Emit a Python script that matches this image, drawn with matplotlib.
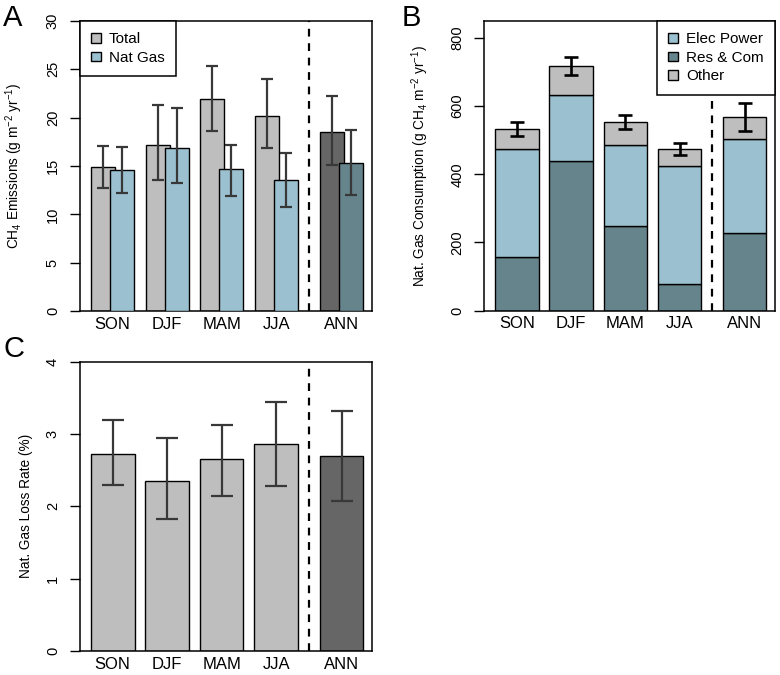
import numpy as np
import matplotlib
matplotlib.use("Agg")
import matplotlib.pyplot as plt
from matplotlib.patches import Patch

plt.rcParams['font.family'] = ['Liberation Sans', 'DejaVu Sans']
plt.rcParams['mathtext.fontset'] = 'custom'
plt.rcParams['mathtext.rm'] = 'Liberation Sans'
plt.rcParams['mathtext.it'] = 'Liberation Sans:italic'
plt.rcParams['mathtext.bf'] = 'Liberation Sans:bold'

# data
seasons = ["SON", "DJF", "MAM", "JJA", "ANN"]

# panel A: CH4 emissions (g m-2 yr-1)
total = [14.9, 17.2, 21.9, 20.2, 18.5]
total_lo = [12.7, 13.6, 18.6, 16.9, 15.1]
total_hi = [17.1, 21.3, 25.3, 24.0, 22.2]
natgas = [14.55, 16.9, 14.7, 13.55, 15.3]
natgas_lo = [12.2, 13.2, 11.9, 10.8, 12.0]
natgas_hi = [17.0, 21.0, 17.2, 16.3, 18.7]

# panel B: nat gas consumption (stacked)
res_com = [158, 440, 247, 78, 229]
elec_power = [315, 193, 240, 347, 274]
other = [61, 84, 65, 50, 65]
cons_lo = [513, 690, 532, 457, 526]
cons_hi = [554, 744, 573, 492, 610]

# panel C: loss rate (%)
loss = [2.73, 2.355, 2.66, 2.86, 2.69]
loss_lo = [2.29, 1.83, 2.15, 2.28, 2.07]
loss_hi = [3.20, 2.94, 3.12, 3.45, 3.32]

GRAY = "#bebebe"
DGRAY = "#666666"
LBLUE = "#9bc1d0"
TEAL = "#66848c"
ERR = "#383838"

x = np.array([0, 1, 2, 3, 4.2])
xlim = (-0.6, 4.76)
sep = 3.6
XTICK_FS = 12
YTICK_FS = 10.5
LAB_FS = 9.8


def style_axes(ax, ylim, yticks, ylabel, label_x):
    ax.set_xlim(*xlim)
    ax.set_ylim(*ylim)
    ax.set_yticks(yticks)
    ax.set_xticks(x)
    ax.set_xticklabels(seasons, fontsize=XTICK_FS)
    ax.tick_params(axis='x', length=0, pad=4)
    ax.tick_params(axis='y', length=7.5, width=1, pad=7, labelsize=YTICK_FS,
                   labelrotation=90)
    for t in ax.get_yticklabels():
        t.set_va('center')
    for s in ax.spines.values():
        s.set_linewidth(1.1)
    ax.set_ylabel(ylabel, fontsize=LAB_FS)
    ax.yaxis.set_label_coords(label_x, 0.5)
    ax.axvline(sep, color='black', lw=1.6, dashes=(3.5, 3))


def errbars(ax, xs, lo, hi, color, lw, cap):
    lo = np.array(lo)
    hi = np.array(hi)
    mid = (lo + hi) / 2
    ax.errorbar(xs, mid, yerr=(hi - lo) / 2, fmt='none', ecolor=color,
                elinewidth=lw, capsize=cap, capthick=lw, zorder=5)


def legend(ax, handles, loc):
    leg = ax.legend(handles=handles, loc=loc, borderaxespad=0, fontsize=11,
                    fancybox=False, framealpha=1, edgecolor='black',
                    handlelength=0.6, handleheight=0.6, handletextpad=0.55,
                    borderpad=0.75, labelspacing=0.3)
    leg.get_frame().set_linewidth(1.1)
    return leg


fig = plt.figure(figsize=(7.8, 6.75), dpi=100)

# ---- panel A
axA = fig.add_axes([0.1026, 0.5393, 0.3744, 0.4296])
off = 0.175
w = 0.44
tcol = [GRAY] * 4 + [DGRAY]
ncol = [LBLUE] * 4 + [TEAL]
axA.bar(x - off, total, width=w, color=tcol, edgecolor='black', lw=1, zorder=2)
axA.bar(x + off, natgas, width=w, color=ncol, edgecolor='black', lw=1, zorder=3)
errbars(axA, x - off, total_lo, total_hi, ERR, 1.6, 4.3)
errbars(axA, x + off, natgas_lo, natgas_hi, ERR, 1.6, 4.3)
style_axes(axA, (0, 30), [0, 5, 10, 15, 20, 25, 30],
           'CH$_4$ Emissions (g m$^{-2}$ yr$^{-1}$)', -0.19)
legend(axA, [Patch(fc=GRAY, ec='black', lw=1, label='Total'),
             Patch(fc=LBLUE, ec='black', lw=1, label='Nat Gas')], 'upper left')
fig.text(0.004, 0.994, 'A', fontsize=21, va='top', ha='left')

# ---- panel B
axB = fig.add_axes([0.6209, 0.5397, 0.3727, 0.4296])
bw = 0.8
axB.bar(x, res_com, width=bw, color=TEAL, edgecolor='black', lw=1, zorder=2)
axB.bar(x, elec_power, width=bw, bottom=res_com, color=LBLUE,
        edgecolor='black', lw=1, zorder=2)
bot2 = np.array(res_com) + np.array(elec_power)
axB.bar(x, other, width=bw, bottom=bot2, color=GRAY, edgecolor='black',
        lw=1, zorder=2)
errbars(axB, x, cons_lo, cons_hi, 'black', 1.9, 4.7)
style_axes(axB, (0, 850), [0, 200, 400, 600, 800],
           'Nat. Gas Consumption (g CH$_4$ m$^{-2}$ yr$^{-1}$)', -0.183)
legend(axB, [Patch(fc=LBLUE, ec='black', lw=1, label='Elec Power'),
             Patch(fc=TEAL, ec='black', lw=1, label='Res & Com'),
             Patch(fc=GRAY, ec='black', lw=1, label='Other')], 'upper right')
fig.text(0.515, 0.994, 'B', fontsize=21, va='top', ha='left')

# ---- panel C
axC = fig.add_axes([0.1026, 0.0356, 0.3744, 0.4285])
ccol = [GRAY] * 4 + [DGRAY]
axC.bar(x, loss, width=bw, color=ccol, edgecolor='black', lw=1, zorder=2)
errbars(axC, x, loss_lo, loss_hi, ERR, 1.6, 8)
style_axes(axC, (0, 4), [0, 1, 2, 3, 4], 'Nat. Gas Loss Rate (%)', -0.161)
fig.text(0.004, 0.503, 'C', fontsize=21, va='top', ha='left')

fig.savefig('out.png', dpi=100)
